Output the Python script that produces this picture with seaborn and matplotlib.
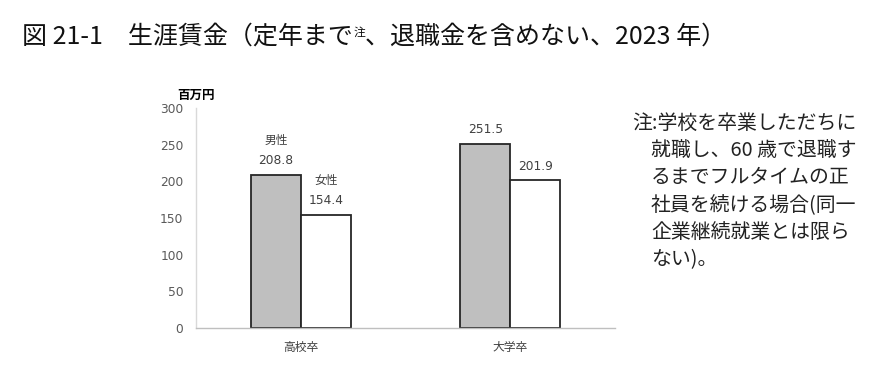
import matplotlib
matplotlib.use("Agg")
import matplotlib.pyplot as plt
import seaborn as sns
import pandas as pd

categories = ["高校卒", "大学卒"]
genders = ["男性", "女性"]
male_values = [208.8, 251.5]
female_values = [154.4, 201.9]
y_ticks = [0, 50, 100, 150, 200, 250, 300]
unit_label = "百万円"
title_main = "図 21-1　生涯賃金（定年まで"
title_sup = "注"
title_rest = "、退職金を含めない、2023 年）"
note_lines = [
    "注:学校を卒業しただちに",
    "就職し、60 歳で退職す",
    "るまでフルタイムの正",
    "社員を続ける場合(同一",
    "企業継続就業とは限ら",
    "ない)。",
]

sns.set_theme(style="white")
plt.rcParams["font.family"] = ["Noto Sans CJK JP", "DejaVu Sans"]
num_font = ["DejaVu Sans"]

df = pd.DataFrame({
    "学歴": categories * 2,
    "性別": [genders[0]] * 2 + [genders[1]] * 2,
    "値": male_values + female_values,
})

fig = plt.figure(figsize=(8.7, 3.67), dpi=100)
ax = fig.add_axes([196 / 870, 1 - 328 / 367, 419 / 870, 220 / 367])

sns.barplot(data=df, x="学歴", y="値", hue="性別", hue_order=genders,
            palette={"男性": "#bfbfbf", "女性": "#ffffff"},
            edgecolor="#262626", linewidth=1.3, width=0.476, gap=0,
            ax=ax, legend=False, errorbar=None)

ax.set_xlim(-0.5, 1.5)
ax.set_ylim(0, 300)
ax.set_yticks(y_ticks)
ax.set_xlabel("")
ax.set_ylabel("")
ax.tick_params(axis="y", length=0, pad=9, labelsize=8.8, labelcolor="#595959")
ax.tick_params(axis="x", length=0, pad=9, labelsize=8.5, labelcolor="#404040")
for lab in ax.get_yticklabels():
    lab.set_family(num_font)
for s in ["top", "right"]:
    ax.spines[s].set_visible(False)
ax.spines["left"].set_color("#d9d9d9")
ax.spines["bottom"].set_color("#bfbfbf")
ax.spines["left"].set_linewidth(1.0)
ax.spines["bottom"].set_linewidth(1.0)

for container, gname in zip(ax.containers, genders):
    for j, bar in enumerate(container):
        xc = bar.get_x() + bar.get_width() / 2
        h = bar.get_height()
        ax.annotate(f"{h:.1f}", (xc, h), xytext=(0, 10), textcoords="offset points",
                    ha="center", va="center", fontsize=8.8, color="#404040",
                    family=num_font)
        if j == 0:
            ax.annotate(gname, (xc, h), xytext=(0, 24.5), textcoords="offset points",
                        ha="center", va="center", fontsize=8.5, color="#404040")

fig.text(177 / 870, 1 - 95 / 367, unit_label, fontsize=9, fontweight="bold",
         color="#000000", ha="left", va="center")

# title with superscript
t1 = fig.text(22 / 870, 1 - 37 / 367, title_main, fontsize=18, color="#111111",
              ha="left", va="center")
fig.canvas.draw()
r = fig.canvas.get_renderer()
bb = t1.get_window_extent(r)
t2 = fig.text(bb.x1 / 870 + 0.001, 1 - 32 / 367, title_sup, fontsize=8.5, color="#111111",
              ha="left", va="center")
bb2 = t2.get_window_extent(r)
fig.text(bb2.x1 / 870, 1 - 37 / 367, title_rest, fontsize=18, color="#111111",
         ha="left", va="center")

for i, line in enumerate(note_lines):
    x = 632 if i == 0 else 651
    fig.text(x / 870, 1 - (123 + 27.4 * i) / 367, line, fontsize=14.3,
             color="#222222", ha="left", va="center")

fig.savefig("out.png", dpi=100)
